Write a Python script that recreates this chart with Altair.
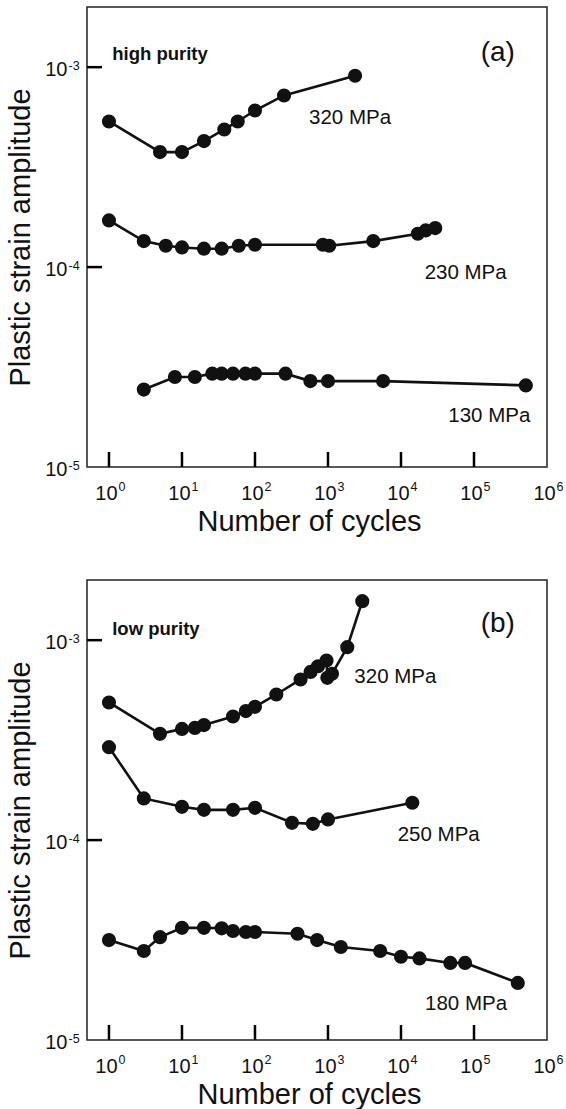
import altair as alt
import pandas as pd

# ---------------- data ----------------
# Panel (a): high purity
A320_N = [1, 5, 10, 20, 38, 58, 100, 250, 2350]
A320_E = [5.35e-4, 3.76e-4, 3.76e-4, 4.27e-4, 4.88e-4, 5.35e-4, 6.07e-4, 7.22e-4, 9.06e-4]
A230_N = [1, 3, 6, 10, 20, 35, 60, 100, 850, 1040, 4170, 17000, 21800, 29500]
A230_E = [1.712e-4, 1.349e-4, 1.279e-4, 1.254e-4, 1.236e-4, 1.236e-4, 1.279e-4,
          1.294e-4, 1.294e-4, 1.279e-4, 1.349e-4, 1.469e-4, 1.526e-4, 1.567e-4]
A130_N = [3, 8, 15, 26, 35, 50, 74, 100, 262, 574, 1000, 5690, 513000]
A130_E = [2.44e-5, 2.82e-5, 2.82e-5, 2.93e-5, 2.93e-5, 2.93e-5, 2.93e-5, 2.93e-5,
          2.93e-5, 2.69e-5, 2.69e-5, 2.69e-5, 2.56e-5]

# Panel (b): low purity
B320_N = [1, 5, 10, 15, 20, 50, 75, 100, 196, 421, 577, 730, 955, 980, 1135, 1837, 2950]
B320_E = [4.88e-4, 3.40e-4, 3.60e-4, 3.64e-4, 3.76e-4, 4.15e-4, 4.42e-4, 4.64e-4, 5.35e-4,
          6.36e-4, 6.94e-4, 7.41e-4, 7.91e-4, 6.48e-4, 6.79e-4, 9.23e-4, 1.567e-3]
B250_N = [1, 3, 10, 20, 50, 100, 321, 620, 1000, 14300]
B250_E = [2.917e-4, 1.616e-4, 1.467e-4, 1.417e-4, 1.417e-4, 1.45e-4, 1.22e-4, 1.206e-4,
          1.269e-4, 1.537e-4]
B180_N = [1, 3, 5, 10, 20, 35, 50, 75, 100, 382, 710, 1500, 5190, 10000, 17900, 47400,
          75500, 398000]
B180_E = [3.16e-5, 2.786e-5, 3.27e-5, 3.64e-5, 3.64e-5, 3.62e-5, 3.51e-5, 3.47e-5, 3.47e-5,
          3.40e-5, 3.16e-5, 2.92e-5, 2.786e-5, 2.61e-5, 2.56e-5, 2.43e-5, 2.43e-5, 1.93e-5]

# annotations
A_TAG = "high purity"
B_TAG = "low purity"
A_LABELS = ["(a)", "320 MPa", "230 MPa", "130 MPa"]
B_LABELS = ["(b)", "320 MPa", "250 MPa", "180 MPa"]

# axes (tick values and their exponent labels)
X_TICKS = [1, 10, 100, 1000, 10000, 100000, 1000000]
X_EXP = ["0", "1", "2", "3", "4", "5", "6"]
Y_TICKS = [1e-5, 1e-4, 1e-3]
Y_EXP = ["-5", "-4", "-3"]
X_DOMAIN = [0.5, 1e6]
Y_DOMAIN = [1e-5, 2e-3]

# annotation anchor positions (data coordinates)
A_TAG_POS = (1.108, 1.089e-3)
B_TAG_POS = (1.108, 1.059e-3)
A_LABEL_POS = [(2.12e5, 1.068e-3), (2004, 5.17e-4), (76900, 8.75e-5), (1.62e5, 1.679e-5)]
B_LABEL_POS = [(2.12e5, 1.10e-3), (8380, 6.12e-4), (32900, 9.89e-5), (77800, 1.413e-5)]
LABEL_SIZES = [28, 20.5, 20.5, 20.5]

FONT = "Liberation Sans"
INK = "#111111"
FRAME = "#222222"
TICKCOL = "#000000"
W = 460
H = 460
TICK_LEN = 15  # px, inward ticks

XSCALE = alt.Scale(type="log", domain=X_DOMAIN, nice=False)
YSCALE = alt.Scale(type="log", domain=Y_DOMAIN, nice=False)

XAXIS = alt.Axis(
    values=X_TICKS, labelExpr="'10'", title="Number of cycles",
    ticks=False, tickSize=0, domain=False, grid=False,
    labelFlush=False, labelOverlap=False, labelPadding=32, labelOffset=-3,
    labelBaseline="alphabetic", labelFontSize=20, labelFont=FONT,
    labelColor=INK, titleFont=FONT, titleFontSize=29,
    titleFontWeight="normal", titleColor=INK, titleX=222, titleY=63,
    titleAlign="center", titleBaseline="alphabetic",
)
YAXIS = alt.Axis(
    values=Y_TICKS, labelExpr="'10'", title="Plastic strain amplitude",
    ticks=False, tickSize=0, domain=False, grid=False,
    labelOverlap=False, labelFlush=False, labelPadding=20,
    labelBaseline="alphabetic", labelOffset=8.3, labelFontSize=20,
    labelFont=FONT, labelColor=INK, titleFont=FONT, titleFontSize=29,
    titleFontWeight="normal", titleColor=INK, titleX=-58, titleY=230,
    titleAngle=270, titleAlign="center", titleBaseline="alphabetic",
)


def make_panel(series, tag, tag_pos, labels, label_pos):
    rows = []
    for name, ns, es in series:
        for i, (n, e) in enumerate(zip(ns, es)):
            rows.append({"series": name, "idx": i, "N": n, "eps": e})
    df = pd.DataFrame(rows)

    def X(f):
        return alt.X(f, scale=XSCALE, axis=XAXIS)

    def Y(f):
        return alt.Y(f, scale=YSCALE, axis=YAXIS)

    lines = alt.Chart(df).mark_line(color=INK, strokeWidth=2.6).encode(
        x=X("N:Q"), y=Y("eps:Q"), detail="series:N", order="idx:Q"
    )
    pts = alt.Chart(df).mark_circle(color=INK, size=200, opacity=1).encode(
        x=X("N:Q"), y=Y("eps:Q")
    )

    # inward tick marks: a tick of TICK_LEN px starting at the frame edge
    xt = alt.Chart(pd.DataFrame({"N": X_TICKS[:-1]})).mark_tick(
        color=TICKCOL, fill=TICKCOL, opacity=1, fillOpacity=1, thickness=2.5,
        size=TICK_LEN, orient="vertical", yOffset=-TICK_LEN / 2,
    ).encode(x=X("N:Q"), y=alt.value(H))
    yt = alt.Chart(pd.DataFrame({"eps": Y_TICKS[1:]})).mark_tick(
        color=TICKCOL, fill=TICKCOL, opacity=1, fillOpacity=1, thickness=2.5,
        size=TICK_LEN, orient="horizontal", xOffset=TICK_LEN / 2,
    ).encode(y=Y("eps:Q"), x=alt.value(0))

    # exponents of the tick labels (superscripts)
    xs_df = pd.DataFrame({"N": X_TICKS, "s": X_EXP, "lo": [Y_DOMAIN[0]] * len(X_TICKS)})
    xsup = alt.Chart(xs_df).mark_text(
        align="left", baseline="alphabetic", dx=9.5, dy=24, fontSize=12.5,
        font=FONT, color=INK,
    ).encode(x=X("N:Q"), y=Y("lo:Q"), text="s:N")
    ys_df = pd.DataFrame({"eps": Y_TICKS, "s": Y_EXP, "lo": [X_DOMAIN[0]] * len(Y_TICKS)})
    ysup = alt.Chart(ys_df).mark_text(
        align="left", baseline="alphabetic", dx=-18.5, dy=2.6, fontSize=12.5,
        font=FONT, color=INK,
    ).encode(y=Y("eps:Q"), x=X("lo:Q"), text="s:N")

    tag_df = pd.DataFrame({"N": [tag_pos[0]], "eps": [tag_pos[1]], "t": [tag]})
    tag_txt = alt.Chart(tag_df).mark_text(
        align="left", baseline="alphabetic", font=FONT, fontWeight="bold",
        fontSize=18.5, color=INK,
    ).encode(x=X("N:Q"), y=Y("eps:Q"), text="t:N")

    lab_df = pd.DataFrame({
        "N": [p[0] for p in label_pos],
        "eps": [p[1] for p in label_pos],
        "t": labels,
        "fs": LABEL_SIZES,
    })
    lab_txt = alt.Chart(lab_df).mark_text(
        align="center", baseline="alphabetic", font=FONT, color=INK,
    ).encode(x=X("N:Q"), y=Y("eps:Q"), text="t:N",
             size=alt.Size("fs:Q", scale=None, legend=None))

    return alt.layer(lines, pts, xt, yt, xsup, ysup, tag_txt, lab_txt).properties(
        width=W, height=H
    )


panel_a = make_panel(
    [("320", A320_N, A320_E), ("230", A230_N, A230_E), ("130", A130_N, A130_E)],
    A_TAG, A_TAG_POS, A_LABELS, A_LABEL_POS,
)
panel_b = make_panel(
    [("320", B320_N, B320_E), ("250", B250_N, B250_E), ("180", B180_N, B180_E)],
    B_TAG, B_TAG_POS, B_LABELS, B_LABEL_POS,
)

chart = (
    alt.vconcat(panel_a, panel_b, spacing=113, bounds="flush")
    .properties(padding={"left": 5, "top": 6, "right": 0, "bottom": 0}, background="white")
    .configure_view(stroke=FRAME, strokeWidth=1.5)
)

chart.save("out.html", embed_options={"renderer": "svg", "actions": False})
